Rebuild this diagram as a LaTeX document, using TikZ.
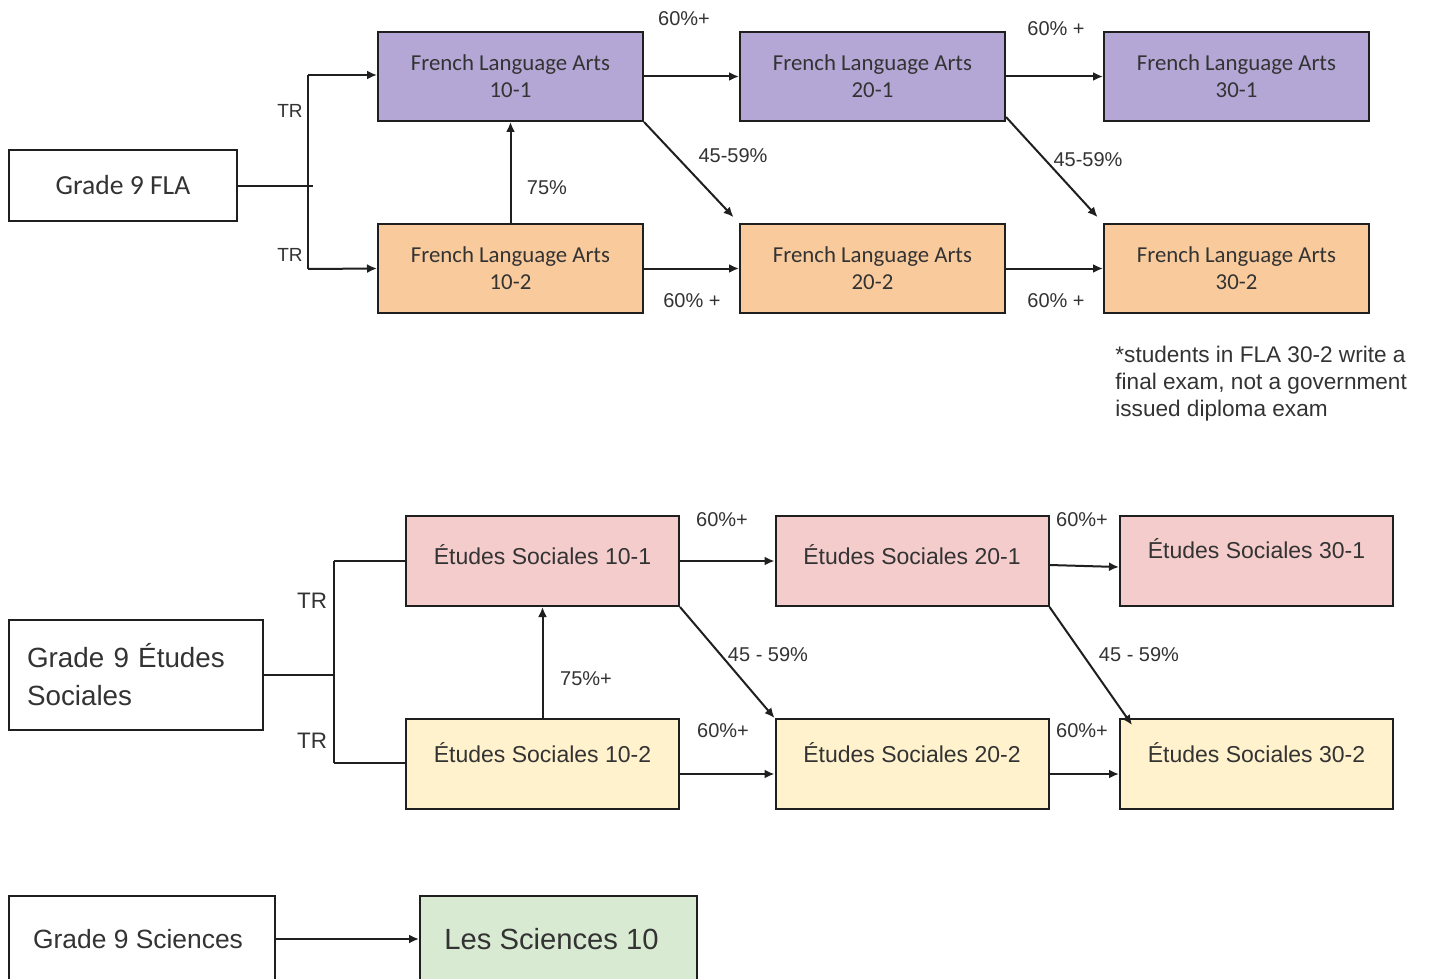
\documentclass[tikz,border=0pt]{standalone}
\usepackage{fontspec}
\setmainfont{Liberation Sans}
\newfontfamily\carlito{Carlito}
\usetikzlibrary{arrows.meta}
\definecolor{purp}{HTML}{B4A7D6}
\definecolor{oran}{HTML}{F9CB9C}
\definecolor{pink}{HTML}{F4CCCC}
\definecolor{yell}{HTML}{FFF2CC}
\definecolor{gree}{HTML}{D9EAD3}
\definecolor{txt}{HTML}{333333}
\definecolor{ln}{HTML}{1F1F1F}
\tikzset{
  box/.style={draw=ln, line width=1pt, inner sep=0pt, text=txt, align=center},
  flabox/.style={box, minimum width=132.5pt, minimum height=44.5pt, font=\carlito\fontsize{11.4}{13.5}\selectfont},
  esbox/.style={box, minimum width=136.5pt, minimum height=45pt, font=\fontsize{11.5}{13.8}\selectfont},
  conn/.style={draw=ln, line width=1pt},
  arr/.style={conn, -{Latex[length=5pt,width=4.5pt]}},
  lab/.style={text=txt, inner sep=0pt, font=\fontsize{10}{12}\selectfont},
}
\begin{document}
\begin{tikzpicture}[x=0.5pt,y=-0.5pt]
\clip (0,0) rectangle (1429,979);
\fill[white] (0,0) rectangle (1429,979);

% ---------- French Language Arts ----------
\node[box, minimum width=114pt, minimum height=35.5pt, font=\carlito\fontsize{13.8}{16}\selectfont] (g9fla) at (123,185.5) {Grade 9 FLA};
\node[flabox, fill=purp] (fla101) at (510.5,76.5) {French Language Arts\\10-1};
\node[flabox, fill=purp] (fla201) at (872.5,76.5) {French Language Arts\\20-1};
\node[flabox, fill=purp] (fla301) at (1236.5,76.5) {French Language Arts\\30-1};
\node[flabox, fill=oran] (fla102) at (510.5,268.5) {French Language Arts\\10-2};
\node[flabox, fill=oran] (fla202) at (872.5,268.5) {French Language Arts\\20-2};
\node[flabox, fill=oran] (fla302) at (1236.5,268.5) {French Language Arts\\30-2};

\coordinate (fj) at (313,185.5);
\coordinate (ftop) at (308,75);
\coordinate (fbot) at (308,269);
\draw[conn] (g9fla.east) -- (fj);
\draw[conn] (ftop) -- (fbot);
\draw[arr] (ftop) -- (fla101.west |- ftop);
\draw[arr] (fbot) -- (fla102.west);
\draw[arr] (fla102.north) -- (fla101.south);
\draw[arr] (fla101.east) -- (fla201.west);
\draw[arr] (fla201.east) -- (fla301.west);
\draw[arr] (fla102.east) -- (fla202.west);
\draw[arr] (fla202.east) -- (fla302.west);
\draw[arr, shorten >=4pt] (fla101.south east) -- (fla202.north west);
\draw[arr, shorten >=4pt] ([yshift=2.5pt]fla201.south east) -- (fla302.north west);

\node[lab, font=\fontsize{9.5}{11}\selectfont] (tr1) at (290,111) {TR};
\node[lab, font=\fontsize{9.5}{11}\selectfont] (tr2) at (290,255) {TR};
\node[lab] (l75) at (547,188) {75\%};
\node[lab] (l1) at (684,19) {60\%+};
\node[lab] (l2) at (1056,29) {60\% +};
\node[lab] (l3) at (733,156) {45-59\%};
\node[lab] (l4) at (1088,160) {45-59\%};
\node[lab] (l5) at (692,301) {60\% +};
\node[lab] (l6) at (1056,301) {60\% +};
\node[lab, anchor=west, align=left, font=\fontsize{11.3}{13.5}\selectfont] (note) at (1115,384)
  {*students in FLA 30-2 write a\\final exam, not a government\\issued diploma exam};

% ---------- Etudes Sociales ----------
\node[box, text width=109pt, inner xsep=9pt, minimum height=55pt, align=left, font=\fontsize{13.9}{19}\selectfont] (g9es) at (136,675) {Grade 9 Études\\Sociales};
\node[esbox, fill=pink] (es101) at (542.5,561) {\raisebox{3pt}[\height][\depth]{Études Sociales 10-1}};
\node[esbox, fill=pink] (es201) at (912,561) {\raisebox{3pt}[\height][\depth]{Études Sociales 20-1}};
\node[esbox, fill=pink] (es301) at (1256.5,561) {\raisebox{6pt}[\height][\depth]{Études Sociales 30-1}};
\node[esbox, fill=yell] (es102) at (542.5,764) {\raisebox{5.5pt}[\height][\depth]{Études Sociales 10-2}};
\node[esbox, fill=yell] (es202) at (912,764) {\raisebox{5.5pt}[\height][\depth]{Études Sociales 20-2}};
\node[esbox, fill=yell] (es302) at (1256.5,764) {\raisebox{5.5pt}[\height][\depth]{Études Sociales 30-2}};

\coordinate (ej) at (334,675);
\coordinate (etop) at (334,561);
\coordinate (ebot) at (334,763);
\draw[conn] (g9es.east) -- (ej);
\draw[conn] (etop) -- (ebot);
\draw[conn] (etop) -- (es101.west);
\draw[conn] (ebot) -- (es102.west |- ebot);
\draw[arr] (es102.north) -- (es101.south);
\draw[arr] (es101.east) -- (es201.west);
\draw[arr] ([yshift=-2pt]es201.east) -- ([yshift=-3pt]es301.west);
\draw[arr] (es101.south east) -- (es202.north west);
\draw[arr] (es201.south east) -- ([xshift=6.5pt,yshift=-3.5pt]es302.north west);
\draw[arr] ([yshift=-5pt]es102.east) -- ([yshift=-5pt]es202.west);
\draw[arr] ([yshift=-5pt]es202.east) -- ([yshift=-5pt]es302.west);

\node[lab, font=\fontsize{11.2}{13}\selectfont] (tr3) at (312,601) {TR};
\node[lab, font=\fontsize{11.2}{13}\selectfont] (tr4) at (312,741) {TR};
\node[lab] (m75) at (586,679) {75\%+};
\node[lab] (m1) at (722,520) {60\%+};
\node[lab] (m2) at (1082,520) {60\%+};
\node[lab] (m3) at (723,731) {60\%+};
\node[lab] (m4) at (1082,731) {60\%+};
\node[lab] (m5) at (768,655) {45 - 59\%};
\node[lab] (m6) at (1139,655) {45 - 59\%};

% ---------- Sciences ----------
\node[box, minimum width=133pt, minimum height=43pt, font=\fontsize{13.2}{16}\selectfont] (g9sci) at (142,939) {\hspace*{-4pt}Grade 9 Sciences};
\node[box, fill=gree, minimum width=138.5pt, minimum height=43pt, font=\fontsize{14.6}{17}\selectfont] (lessci) at (558.5,939) {\hspace*{-7pt}Les Sciences 10};
\draw[arr] (g9sci.east) -- (lessci.west);
\end{tikzpicture}
\end{document}
